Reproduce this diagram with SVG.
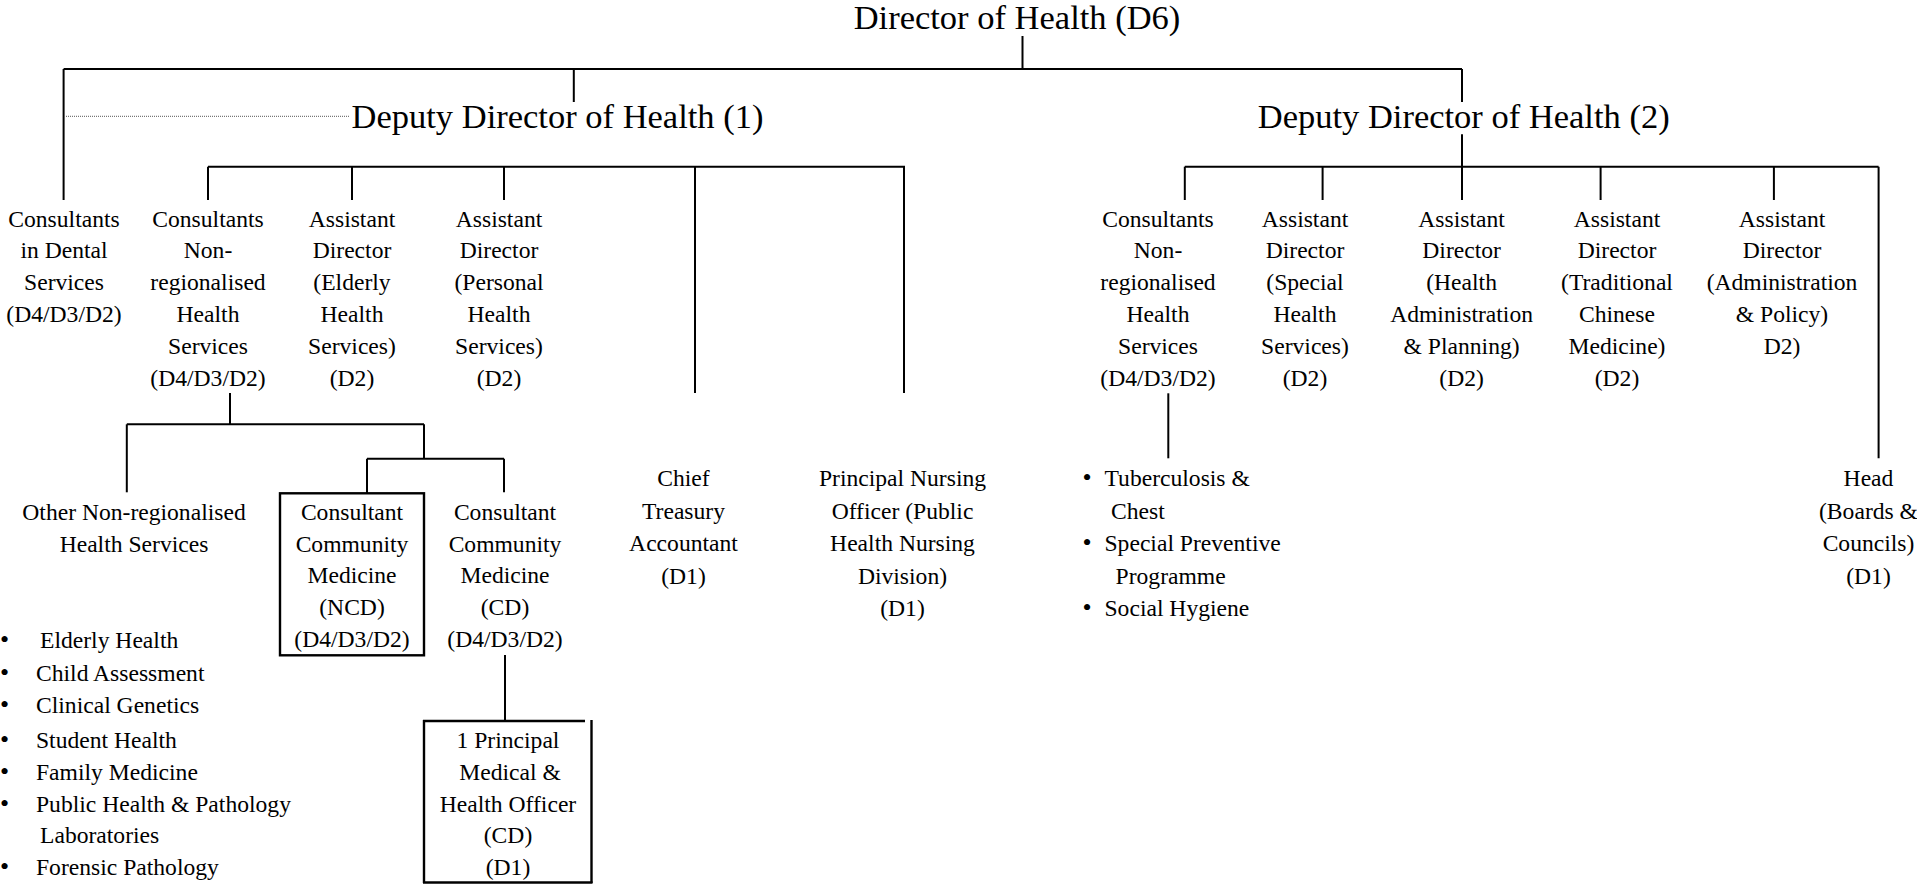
<svg xmlns="http://www.w3.org/2000/svg" width="1917" height="885" viewBox="0 0 1917 885">
<style>
  text { font-family: 'Liberation Serif', 'DejaVu Serif', serif; }
  .t { font-size: 23.6px; fill: #000; text-anchor: middle; }
  .big { font-size: 34.5px; }
  .l { text-anchor: start; }
  .b { font-size: 26px; }
  .ln { stroke: #000; stroke-width: 2; fill: none; }
  .dot { stroke: #777; stroke-width: 1.2; stroke-dasharray: 1 1; fill: none; }
  .box { stroke: #000; stroke-width: 2.4; fill: none; }
</style>
<rect width="1917" height="885" fill="#fff"/>

<g id="connectors">
  <line class="ln" x1="1022.5" y1="36" x2="1022.5" y2="69"/>
  <line class="ln" x1="63.6" y1="69" x2="1462" y2="69"/>
  <line class="ln" x1="63.6" y1="69" x2="63.6" y2="200"/>
  <line class="ln" x1="573.8" y1="69" x2="573.8" y2="102"/>
  <line class="ln" x1="1462" y1="69" x2="1462" y2="102"/>
  <line class="dot" x1="66" y1="116.3" x2="350" y2="116.3"/>
  <line class="ln" x1="208" y1="166.7" x2="905" y2="166.7"/>
  <line class="ln" x1="208" y1="166.7" x2="208" y2="200"/>
  <line class="ln" x1="352" y1="166.7" x2="352" y2="200"/>
  <line class="ln" x1="504" y1="166.7" x2="504" y2="200"/>
  <line class="ln" x1="695" y1="166.7" x2="695" y2="393"/>
  <line class="ln" x1="904" y1="166.7" x2="904" y2="393"/>
  <line class="ln" x1="230" y1="393" x2="230" y2="424.3"/>
  <line class="ln" x1="126.8" y1="424.3" x2="424" y2="424.3"/>
  <line class="ln" x1="126.8" y1="424.3" x2="126.8" y2="492.3"/>
  <line class="ln" x1="424" y1="424.3" x2="424" y2="458.7"/>
  <line class="ln" x1="367" y1="458.7" x2="504" y2="458.7"/>
  <line class="ln" x1="367" y1="458.7" x2="367" y2="493"/>
  <line class="ln" x1="504" y1="458.7" x2="504" y2="492.3"/>
  <line class="ln" x1="505" y1="655" x2="505" y2="721"/>
  <line class="ln" x1="1462" y1="134.3" x2="1462" y2="166.7"/>
  <line class="ln" x1="1184.8" y1="166.7" x2="1878.6" y2="166.7"/>
  <line class="ln" x1="1184.8" y1="166.7" x2="1184.8" y2="200"/>
  <line class="ln" x1="1322.6" y1="166.7" x2="1322.6" y2="200"/>
  <line class="ln" x1="1462" y1="166.7" x2="1462" y2="200"/>
  <line class="ln" x1="1600.6" y1="166.7" x2="1600.6" y2="200"/>
  <line class="ln" x1="1773.9" y1="166.7" x2="1773.9" y2="200"/>
  <line class="ln" x1="1878.6" y1="166.7" x2="1878.6" y2="458.3"/>
  <line class="ln" x1="1168.3" y1="393.3" x2="1168.3" y2="458.3"/>
</g>

<g id="n-director"><text class="t big" x="1017" y="29">Director of Health (D6)</text></g>
<g id="n-dep1"><text class="t big" x="557.5" y="128.3">Deputy Director of Health (1)</text></g>
<g id="n-dep2"><text class="t big" x="1463.7" y="128.3">Deputy Director of Health (2)</text></g>

<g id="n-dental">
  <text class="t" x="64" y="226.5">Consultants</text>
  <text class="t" x="64" y="258.3">in Dental</text>
  <text class="t" x="64" y="290.1">Services</text>
  <text class="t" x="64" y="321.9">(D4/D3/D2)</text>
</g>
<g id="n-cons1">
  <text class="t" x="208" y="226.5">Consultants</text>
  <text class="t" x="208" y="258.3">Non-</text>
  <text class="t" x="208" y="290.1">regionalised</text>
  <text class="t" x="208" y="321.9">Health</text>
  <text class="t" x="208" y="353.7">Services</text>
  <text class="t" x="208" y="385.5">(D4/D3/D2)</text>
</g>
<g id="n-ad-elderly">
  <text class="t" x="352" y="226.5">Assistant</text>
  <text class="t" x="352" y="258.3">Director</text>
  <text class="t" x="352" y="290.1">(Elderly</text>
  <text class="t" x="352" y="321.9">Health</text>
  <text class="t" x="352" y="353.7">Services)</text>
  <text class="t" x="352" y="385.5">(D2)</text>
</g>
<g id="n-ad-personal">
  <text class="t" x="499" y="226.5">Assistant</text>
  <text class="t" x="499" y="258.3">Director</text>
  <text class="t" x="499" y="290.1">(Personal</text>
  <text class="t" x="499" y="321.9">Health</text>
  <text class="t" x="499" y="353.7">Services)</text>
  <text class="t" x="499" y="385.5">(D2)</text>
</g>

<g id="n-other">
  <text class="t" x="134" y="520">Other Non-regionalised</text>
  <text class="t" x="134" y="551.7">Health Services</text>
</g>
<g id="n-ncd">
  <rect class="box" x="280" y="493.3" width="144" height="162"/>
  <text class="t" x="352" y="520">Consultant</text>
  <text class="t" x="352" y="551.7">Community</text>
  <text class="t" x="352" y="583.4">Medicine</text>
  <text class="t" x="352" y="615.1">(NCD)</text>
  <text class="t" x="352" y="646.8">(D4/D3/D2)</text>
</g>
<g id="n-cd">
  <text class="t" x="505" y="520">Consultant</text>
  <text class="t" x="505" y="551.7">Community</text>
  <text class="t" x="505" y="583.4">Medicine</text>
  <text class="t" x="505" y="615.1">(CD)</text>
  <text class="t" x="505" y="646.8">(D4/D3/D2)</text>
</g>
<g id="n-pmho">
  <line class="box" x1="423" y1="721" x2="585" y2="721"/>
  <line class="box" x1="424" y1="720" x2="424" y2="883"/>
  <line class="box" x1="591.5" y1="720" x2="591.5" y2="883"/>
  <line class="box" x1="423" y1="882.5" x2="592.5" y2="882.5"/>
  <text class="t" x="508" y="748.3">1 Principal</text>
  <text class="t" x="510" y="780">Medical &amp;</text>
  <text class="t" x="508" y="811.7">Health Officer</text>
  <text class="t" x="508" y="843.4">(CD)</text>
  <text class="t" x="508" y="875">(D1)</text>
</g>
<g id="n-list1">
  <text class="t b" x="4.5" y="648.3">•</text>
  <text class="t l" x="40" y="648.3">Elderly Health</text>
  <text class="t b" x="4.5" y="681">•</text>
  <text class="t l" x="36" y="681">Child Assessment</text>
  <text class="t b" x="4.5" y="713.3">•</text>
  <text class="t l" x="36" y="713.3">Clinical Genetics</text>
  <text class="t b" x="4.5" y="747.5">•</text>
  <text class="t l" x="36" y="747.5">Student Health</text>
  <text class="t b" x="4.5" y="780">•</text>
  <text class="t l" x="36" y="780">Family Medicine</text>
  <text class="t b" x="4.5" y="811.7">•</text>
  <text class="t l" x="36" y="811.7">Public Health &amp; Pathology</text>
  <text class="t l" x="40" y="843.4">Laboratories</text>
  <text class="t b" x="4.5" y="875">•</text>
  <text class="t l" x="36" y="875">Forensic Pathology</text>
</g>

<g id="n-chief-treasury">
  <text class="t" x="683.5" y="486">Chief</text>
  <text class="t" x="683.5" y="518.5">Treasury</text>
  <text class="t" x="683.5" y="551">Accountant</text>
  <text class="t" x="683.5" y="583.5">(D1)</text>
</g>
<g id="n-pno">
  <text class="t" x="902.5" y="486">Principal Nursing</text>
  <text class="t" x="902.5" y="518.5">Officer (Public</text>
  <text class="t" x="902.5" y="551">Health Nursing</text>
  <text class="t" x="902.5" y="583.5">Division)</text>
  <text class="t" x="902.5" y="616">(D1)</text>
</g>

<g id="n-cons2">
  <text class="t" x="1158" y="226.5">Consultants</text>
  <text class="t" x="1158" y="258.3">Non-</text>
  <text class="t" x="1158" y="290.1">regionalised</text>
  <text class="t" x="1158" y="321.9">Health</text>
  <text class="t" x="1158" y="353.7">Services</text>
  <text class="t" x="1158" y="385.5">(D4/D3/D2)</text>
</g>
<g id="n-ad-special">
  <text class="t" x="1305" y="226.5">Assistant</text>
  <text class="t" x="1305" y="258.3">Director</text>
  <text class="t" x="1305" y="290.1">(Special</text>
  <text class="t" x="1305" y="321.9">Health</text>
  <text class="t" x="1305" y="353.7">Services)</text>
  <text class="t" x="1305" y="385.5">(D2)</text>
</g>
<g id="n-ad-health-admin">
  <text class="t" x="1461.6" y="226.5">Assistant</text>
  <text class="t" x="1461.6" y="258.3">Director</text>
  <text class="t" x="1461.6" y="290.1">(Health</text>
  <text class="t" x="1461.6" y="321.9">Administration</text>
  <text class="t" x="1461.6" y="353.7">&amp; Planning)</text>
  <text class="t" x="1461.6" y="385.5">(D2)</text>
</g>
<g id="n-ad-tcm">
  <text class="t" x="1617" y="226.5">Assistant</text>
  <text class="t" x="1617" y="258.3">Director</text>
  <text class="t" x="1617" y="290.1">(Traditional</text>
  <text class="t" x="1617" y="321.9">Chinese</text>
  <text class="t" x="1617" y="353.7">Medicine)</text>
  <text class="t" x="1617" y="385.5">(D2)</text>
</g>
<g id="n-ad-admin">
  <text class="t" x="1782" y="226.5">Assistant</text>
  <text class="t" x="1782" y="258.3">Director</text>
  <text class="t" x="1782" y="290.1">(Administration</text>
  <text class="t" x="1782" y="321.9">&amp; Policy)</text>
  <text class="t" x="1782" y="353.7">D2)</text>
</g>
<g id="n-list2">
  <text class="t b" x="1087" y="486">•</text>
  <text class="t l" x="1104.5" y="486">Tuberculosis &amp;</text>
  <text class="t l" x="1111" y="518.5">Chest</text>
  <text class="t b" x="1087" y="551">•</text>
  <text class="t l" x="1104.5" y="551">Special Preventive</text>
  <text class="t l" x="1115.6" y="583.5">Programme</text>
  <text class="t b" x="1087" y="616">•</text>
  <text class="t l" x="1104.5" y="616">Social Hygiene</text>
</g>
<g id="n-head">
  <text class="t" x="1868.5" y="486">Head</text>
  <text class="t" x="1868.5" y="518.5">(Boards &amp;</text>
  <text class="t" x="1868.5" y="551">Councils)</text>
  <text class="t" x="1868.5" y="583.5">(D1)</text>
</g>
</svg>
